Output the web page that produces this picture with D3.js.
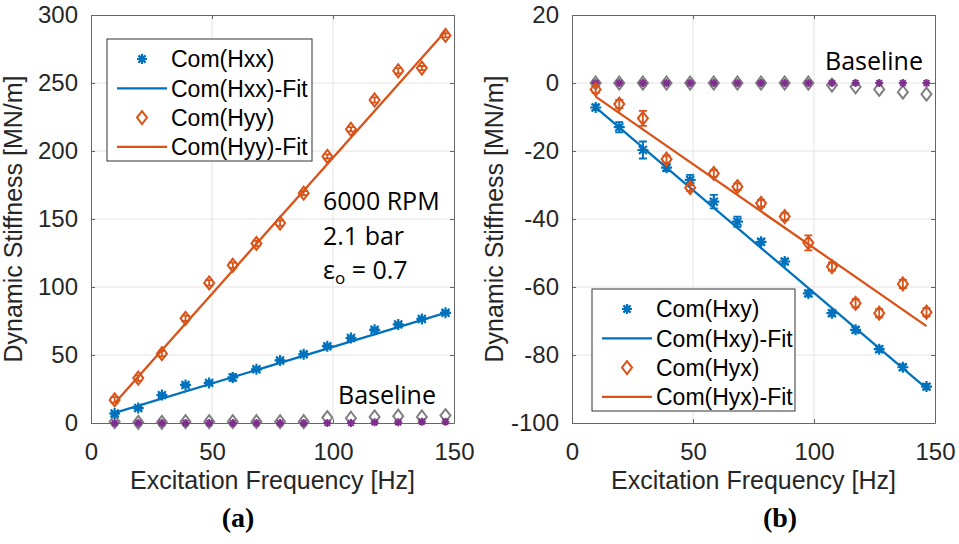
<!DOCTYPE html>
<html>
<head>
<meta charset="utf-8">
<script src="https://cdn.jsdelivr.net/npm/d3@7"></script>
<style>
  body { margin: 0; background: #fff; }
  svg text { font-family: "Liberation Sans", Arial, sans-serif; }
  .note { font-family: "Open Sans", sans-serif !important; fill: #000; }
  .cap { font-family: "Liberation Serif", serif !important; font-weight: bold; fill: #000; }
</style>
</head>
<body>
<svg id="chart" width="959" height="544"></svg>
<script>
// excitation frequencies (Hz)
const freq = [9.77, 19.53, 29.3, 39.06, 48.83, 58.59, 68.36, 78.13, 87.89, 97.66, 107.42, 117.19, 126.95, 136.72, 146.48];

// panel (a): direct stiffness
const hxx = [7, 11, 20.5, 28, 29.5, 33.5, 39.5, 46, 50.5, 56.5, 62.5, 68.5, 72.5, 76.5, 81];
const hxxErr = [1, 1, 1, 1, 1, 2.5, 1, 1, 1, 1, 1, 1, 1, 1, 1];
const hxxFit = [7.5, 81];
const hyy = [17, 33, 51, 77, 103, 116, 132, 147, 169, 196, 216, 237.5, 259, 261, 285];
const hyyErr = [2, 2, 2, 2, 2, 2, 2, 2, 1.5, 1.5, 1.5, 2, 2, 1.5, 1.5];
const hyyFit = [14.5, 288];
const baseGrayA = [1, 0.5, 0.5, 1, 1, 1, 1, 1, 1, 4, 3.5, 4.5, 5, 4.5, 5.5];
const basePurpleA = [0, 0, 0, 0, 0, 0, 0, 0, 0, 0, 0, 0.5, 0.5, 1, 1];

// panel (b): cross-coupled stiffness
const hxy = [-7.2, -13, -19.7, -24.9, -28.5, -34.9, -40.8, -46.7, -52.5, -61.9, -67.7, -72.6, -78.3, -83.6, -89.3];
const hxyErr = [0.8, 1.5, 2.5, 1, 1.5, 2, 1.5, 0.8, 0.8, 0.8, 0.8, 0.8, 0.8, 0.8, 0.8];
const hxyFit = [-7.2, -89.8];
const hyx = [-1.9, -6.2, -10.4, -22.4, -30.8, -26.6, -30.5, -35.4, -39.3, -47, -54, -64.8, -67.7, -59.1, -67.4];
const hyxErr = [1, 1.2, 2.2, 1, 1, 1, 1, 1, 1, 2.2, 1.2, 1.2, 1.2, 1.2, 1.2];
const hyxFit = [-4, -71.5];
const baseGrayB = [0, 0, 0, 0, 0, 0, 0, 0, 0, 0, -0.6, -1.1, -1.9, -2.7, -3.3];
const basePurpleB = [0, 0, 0, 0, 0, 0, 0, 0, 0, 0, 0, 0, 0, 0, 0];

const xTicks = [0, 50, 100, 150];
const yTicksA = [0, 50, 100, 150, 200, 250, 300];
const yTicksB = [-100, -80, -60, -40, -20, 0, 20];

const blue = "#0072BD", orange = "#D95319", purple = "#7E2F8E", gray = "#808080";

const svg = d3.select("#chart");
svg.append("rect").attr("width", 959).attr("height", 544).attr("fill", "#fff");

const plotTop = 15, plotBottom = 423;

function star(g, x, y, color, r, sw) {
    const p = d3.path();
    p.moveTo(x - r, y); p.lineTo(x + r, y);
    p.moveTo(x, y - r); p.lineTo(x, y + r);
    const d = r * 0.72;
    p.moveTo(x - d, y - d); p.lineTo(x + d, y + d);
    p.moveTo(x - d, y + d); p.lineTo(x + d, y - d);
    g.append("path").attr("d", p.toString()).attr("stroke", color)
        .attr("stroke-width", sw || 2.2).attr("fill", "none");
}

function diamond(g, x, y, color, w, h) {
    g.append("path")
        .attr("d", `M${x},${y - h}L${x + w},${y}L${x},${y + h}L${x - w},${y}Z`)
        .attr("stroke", color).attr("stroke-width", 2).attr("fill", "none");
}

function panel(opt) {
    const x = d3.scaleLinear().domain([0, 150]).range([opt.left, opt.left + 363]);
    const y = d3.scaleLinear().domain(opt.yDomain).range([plotBottom, plotTop]);
    const g = svg.append("g");

    // grid
    g.selectAll(".gx").data(xTicks.slice(1, -1)).join("line")
        .attr("x1", d => x(d)).attr("x2", d => x(d))
        .attr("y1", plotTop).attr("y2", plotBottom).attr("stroke", "#e3e3e3");
    g.selectAll(".gy").data(opt.yTicks.slice(1, -1)).join("line")
        .attr("y1", d => y(d)).attr("y2", d => y(d))
        .attr("x1", x(0)).attr("x2", x(150)).attr("stroke", "#e3e3e3");

    // axes with inward ticks on all sides
    const tick = 4;
    const ax = g.append("g").attr("transform", `translate(0,${plotBottom})`)
        .call(d3.axisBottom(x).tickValues(xTicks).tickSizeInner(-tick).tickSizeOuter(0).tickPadding(14));
    g.append("g").attr("transform", `translate(${opt.left},0)`)
        .call(d3.axisLeft(y).tickValues(opt.yTicks).tickFormat(d => String(d))
            .tickSizeInner(-tick).tickSizeOuter(0).tickPadding(13));
    g.append("g").attr("transform", `translate(0,${plotTop})`)
        .call(d3.axisTop(x).tickValues(xTicks).tickSizeInner(-tick).tickSizeOuter(0).tickFormat(""));
    g.append("g").attr("transform", `translate(${opt.left + 363},0)`)
        .call(d3.axisRight(y).tickValues(opt.yTicks).tickSizeInner(-tick).tickSizeOuter(0).tickFormat(""));
    g.selectAll(".domain, .tick line").attr("stroke", "#666");
    g.selectAll(".tick text").attr("font-size", 24).attr("fill", "#262626")
        .attr("font-family", "Liberation Sans, Arial, sans-serif");
    ax.selectAll(".tick text").attr("dy", "0.95em");

    // labels
    g.append("text").attr("x", x(75)).attr("y", 489).attr("text-anchor", "middle")
        .attr("font-size", 25).attr("fill", "#262626").text("Excitation Frequency [Hz]");
    g.append("text").attr("transform", `translate(${opt.left - 69},${(plotTop + plotBottom) / 2}) rotate(-90)`)
        .attr("text-anchor", "middle").attr("font-size", 25).attr("fill", "#262626")
        .text("Dynamic Stiffness [MN/m]");
    g.append("text").attr("class", "cap").attr("x", opt.capX).attr("y", 527)
        .attr("text-anchor", "middle").attr("font-size", 28).text(opt.cap);

    // baseline markers
    freq.forEach((f, i) => diamond(g, x(f), y(opt.baseGray[i]), gray, 5, 6.5));
    freq.forEach((f, i) => star(g, x(f), y(opt.basePurple[i]), purple, 4, 2));

    // error bars
    function errs(vals, err, color) {
        freq.forEach((f, i) => {
            const cx = x(f), y1 = y(vals[i] - err[i]), y2 = y(vals[i] + err[i]);
            g.append("path")
                .attr("d", `M${cx},${y1}V${y2}M${cx - 4},${y1}H${cx + 4}M${cx - 4},${y2}H${cx + 4}`)
                .attr("stroke", color).attr("stroke-width", 1.8).attr("fill", "none");
        });
    }

    // fit lines
    const line = d3.line().x(d => x(d[0])).y(d => y(d[1]));
    g.append("path").datum([[freq[0], opt.s1Fit[0]], [freq[freq.length - 1], opt.s1Fit[1]]])
        .attr("d", line).attr("stroke", blue).attr("stroke-width", 2.3).attr("fill", "none");
    g.append("path").datum([[freq[0], opt.s2Fit[0]], [freq[freq.length - 1], opt.s2Fit[1]]])
        .attr("d", line).attr("stroke", orange).attr("stroke-width", 2.3).attr("fill", "none");

    errs(opt.s1, opt.s1Err, blue);
    freq.forEach((f, i) => star(g, x(f), y(opt.s1[i]), blue, 5.5));
    errs(opt.s2, opt.s2Err, orange);
    freq.forEach((f, i) => diamond(g, x(f), y(opt.s2[i]), orange, 5, 6.5));

    // legend
    const L = opt.legend;
    g.append("rect").attr("x", L.x).attr("y", L.y).attr("width", L.w).attr("height", L.h)
        .attr("fill", "#fff").attr("stroke", "#333").attr("stroke-width", 1);
    const rows = L.y + 20;
    opt.names.forEach((name, i) => {
        const ry = rows + i * 29.3;
        const mx = L.x + 35;
        if (i === 0) star(g, mx, ry, blue, 5);
        if (i === 2) diamond(g, mx, ry, orange, 5, 6.5);
        if (i === 1 || i === 3) {
            g.append("line").attr("x1", L.x + 10).attr("x2", L.x + 60)
                .attr("y1", ry).attr("y2", ry)
                .attr("stroke", i === 1 ? blue : orange).attr("stroke-width", 2.3);
        }
        g.append("text").attr("x", L.x + 64).attr("y", ry).attr("dy", "0.36em")
            .attr("font-size", 23).attr("fill", "#000").text(name);
    });

    return g;
}

const ga = panel({
    left: 91, yDomain: [0, 300], yTicks: yTicksA,
    s1: hxx, s1Err: hxxErr, s1Fit: hxxFit,
    s2: hyy, s2Err: hyyErr, s2Fit: hyyFit,
    baseGray: baseGrayA, basePurple: basePurpleA,
    cap: "(a)", capX: 238,
    names: ["Com(Hxx)", "Com(Hxx)-Fit", "Com(Hyy)", "Com(Hyy)-Fit"],
    legend: { x: 107, y: 39, w: 205, h: 122 }
});
ga.append("text").attr("class", "note").attr("x", 323).attr("y", 210)
    .attr("font-size", 25).text("6000 RPM");
ga.append("text").attr("class", "note").attr("x", 323).attr("y", 245)
    .attr("font-size", 25).text("2.1 bar");
const eps = ga.append("text").attr("class", "note").attr("x", 323).attr("y", 279)
    .attr("font-size", 25);
eps.append("tspan").text("ε");
eps.append("tspan").attr("font-size", 17).attr("dy", 5).text("o");
eps.append("tspan").attr("dy", -5).text(" = 0.7");
ga.append("text").attr("class", "note").attr("x", 338).attr("y", 404)
    .attr("font-size", 25).text("Baseline");

const gb = panel({
    left: 572, yDomain: [-100, 20], yTicks: yTicksB,
    s1: hxy, s1Err: hxyErr, s1Fit: hxyFit,
    s2: hyx, s2Err: hyxErr, s2Fit: hyxFit,
    baseGray: baseGrayB, basePurple: basePurpleB,
    cap: "(b)", capX: 780,
    names: ["Com(Hxy)", "Com(Hxy)-Fit", "Com(Hyx)", "Com(Hyx)-Fit"],
    legend: { x: 592, y: 289, w: 203, h: 122 }
});
gb.append("text").attr("class", "note").attr("x", 825).attr("y", 70)
    .attr("font-size", 25).text("Baseline");
</script>
</body>
</html>
